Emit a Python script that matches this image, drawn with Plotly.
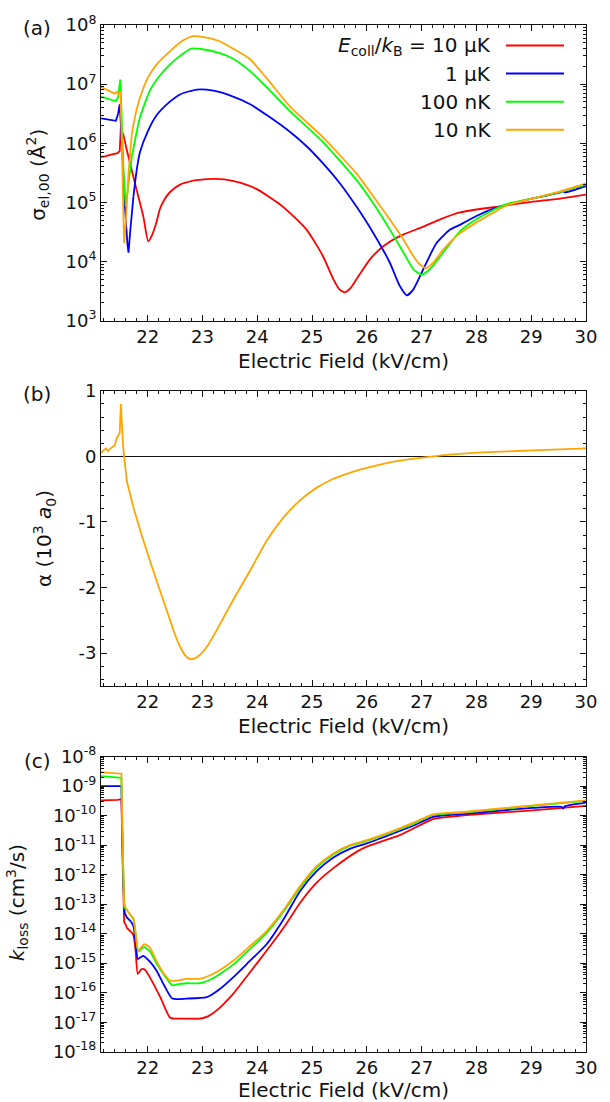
import plotly.graph_objects as go

# ---------------- data ----------------
# Panel (a): sigma_el,00 (Å^2)
a_red_x = [21.15, 21.22, 21.3, 21.38, 21.45, 21.49, 21.51, 21.53, 21.56, 21.62, 21.68, 21.8, 21.92, 22.01,
           22.08, 22.16, 22.22, 22.3, 22.41, 22.59, 22.8, 22.95, 23.2, 23.4, 23.7, 24.0, 24.4, 24.6, 24.9,
           25.2, 25.39, 25.5, 25.6, 25.7, 25.81, 26.06, 26.3, 26.6, 27.03, 27.33, 27.7, 28.0, 28.4, 29.0,
           29.5, 30.0]
a_red_y = [5.9e5, 6.0e5, 6.3e5, 6.6e5, 6.8e5, 7.4e5, 1.9e6, 1.6e6, 1.35e6, 7.6e5, 4.6e5, 1.6e5, 5.8e4, 2.2e4,
           2.8e4, 4.6e4, 7.6e4, 1.1e5, 1.5e5, 2.0e5, 2.3e5, 2.4e5, 2.5e5, 2.45e5, 2.14e5, 1.66e5, 9.5e4,
           6.6e4, 3.47e4, 1.23e4, 5.0e3, 3.39e3, 3.02e3, 3.55e3, 5.0e3, 1.1e4, 1.82e4, 2.69e4, 3.89e4,
           5.13e4, 6.76e4, 7.59e4, 8.51e4, 1.02e5, 1.15e5, 1.35e5]

a_blue_x = [21.15, 21.25, 21.35, 21.42, 21.46, 21.49, 21.53, 21.58, 21.63, 21.65, 21.68, 21.74, 21.8, 21.86,
            22.0, 22.16, 22.4, 22.6, 22.9, 23.2, 23.5, 23.87, 24.2, 24.6, 24.9, 25.2, 25.51, 25.81, 26.12,
            26.42, 26.6, 26.73, 26.85, 27.03, 27.27, 27.52, 27.7, 28.0, 28.3, 28.55, 29.03, 29.3, 29.55,
            29.58, 29.61, 30.0]
a_blue_y = [2.63e6, 2.57e6, 2.45e6, 2.4e6, 3.16e6, 4.57e6, 1.0e6, 1.0e5, 2.0e4, 1.41e4, 3.16e4, 1.26e5,
            3.55e5, 7.1e5, 1.58e6, 2.95e6, 5.0e6, 6.76e6, 8.1e6, 7.76e6, 6.46e6, 4.57e6, 2.88e6, 1.55e6,
            8.9e5, 4.57e5, 2.09e5, 8.5e4, 3.02e4, 9.55e3, 3.89e3, 2.69e3, 3.39e3, 7.41e3, 2.04e4, 3.47e4,
            4.17e4, 5.89e4, 7.76e4, 9.12e4, 1.17e5, 1.32e5, 1.51e5, 1.58e5, 1.48e5, 1.9e5]

a_green_x = [21.15, 21.25, 21.35, 21.42, 21.46, 21.5, 21.52, 21.56, 21.6, 21.65, 21.71, 21.8, 21.86, 22.04,
             22.2, 22.35, 22.5, 22.65, 22.8, 23.0, 23.3, 23.56, 23.87, 24.17, 24.6, 25.2, 25.81, 26.12,
             26.42, 26.67, 26.85, 27.0, 27.15, 27.39, 27.7, 27.94, 28.2, 28.55, 29.03, 29.5, 30.0]
a_green_y = [6.17e6, 5.75e6, 5.25e6, 5.13e6, 6.03e6, 1.2e7, 3.98e6, 3.16e5, 8.5e4, 2.0e5, 5.89e5, 1.58e6,
             2.75e6, 7.76e6, 1.32e7, 1.91e7, 2.57e7, 3.31e7, 3.98e7, 3.89e7, 3.39e7, 2.69e7, 1.66e7,
             8.91e6, 3.47e6, 1.05e6, 2.4e5, 9.55e4, 3.47e4, 1.41e4, 7.41e3, 6.03e3, 7.41e3, 1.41e4,
             3.24e4, 4.79e4, 6.61e4, 9.33e4, 1.17e5, 1.48e5, 2.0e5]

a_orange_x = [21.15, 21.2, 21.25, 21.3, 21.35, 21.4, 21.44, 21.47, 21.5, 21.53, 21.55, 21.57, 21.6, 21.65,
              21.71, 21.8, 21.9, 22.0, 22.16, 22.4, 22.65, 22.83, 23.0, 23.3, 23.56, 23.87, 24.17, 24.6,
              25.2, 25.81, 26.12, 26.42, 26.67, 26.85, 26.97, 27.09, 27.21, 27.39, 27.7, 28.0, 28.3, 28.55,
              29.03, 29.5, 30.0]
a_orange_y = [8.91e6, 8.51e6, 7.94e6, 7.59e6, 7.24e6, 6.92e6, 7.41e6, 6.92e6, 7.59e6, 1.0e6, 1.0e5, 2.04e4,
              4.47e4, 3.09e5, 1.45e6, 3.8e6, 7.59e6, 1.26e7, 2.14e7, 3.55e7, 5.5e7, 6.46e7, 6.31e7, 5.37e7,
              3.98e7, 2.63e7, 1.26e7, 4.17e6, 1.26e6, 3.09e5, 1.26e5, 5.13e4, 2.34e4, 1.23e4, 8.91e3,
              7.76e3, 9.55e3, 1.58e4, 3.02e4, 4.57e4, 6.61e4, 8.91e4, 1.17e5, 1.51e5, 2.09e5]

# Panel (b): alpha (10^3 a0), 10 nK
b_x = [21.15, 21.2, 21.24, 21.28, 21.32, 21.36, 21.4, 21.43, 21.47, 21.49, 21.51, 21.53, 21.55, 21.57,
       21.62, 21.74, 21.92, 22.16, 22.41, 22.5, 22.59, 22.68, 22.77, 22.86, 22.95, 23.1, 23.26, 23.56,
       23.87, 24.17, 24.48, 24.78, 25.08, 25.39, 25.69, 26.0, 26.3, 26.6, 26.91, 27.21, 27.5, 27.82,
       28.43, 29.03, 30.0]
b_y = [0.05, 0.10, 0.12, 0.08, 0.12, 0.15, 0.17, 0.27, 0.33, 0.36, 0.80, 0.35, 0.18, 0.0,
       -0.38, -0.78, -1.28, -1.89, -2.50, -2.72, -2.90, -3.03, -3.09, -3.08, -3.03, -2.88, -2.65, -2.19,
       -1.74, -1.29, -0.93, -0.67, -0.48, -0.34, -0.25, -0.175, -0.114, -0.064, -0.029, 0.0, 0.027, 0.047,
       0.072, 0.092, 0.122]

# Panel (c): k_loss (cm^3/s)
c_red_x = [21.15, 21.3, 21.45, 21.5, 21.52, 21.55, 21.57, 21.6, 21.62, 21.7, 21.74, 21.78, 21.82, 21.89,
           21.95, 22.04, 22.23, 22.41, 22.5, 22.71, 22.95, 23.1, 23.26, 23.56, 23.85, 24.17, 24.5, 24.78,
           25.08, 25.39, 25.82, 26.0, 26.6, 27.21, 27.5, 27.82, 29.03, 30.0]
c_red_y = [3.31e-10, 3.31e-10, 3.39e-10, 3.55e-10, 3.55e-10, 1e-12, 2.51e-14, 2.0e-14, 1.58e-14, 1.12e-14,
           8.91e-15, 2.51e-15, 4.37e-16, 6.31e-16, 6.03e-16, 3.31e-16, 7.08e-17, 1.41e-17, 1.32e-17,
           1.32e-17, 1.32e-17, 1.58e-17, 2.51e-17, 9.12e-17, 4.47e-16, 2.63e-15, 1.78e-14, 1.10e-13,
           5.25e-13, 1.66e-12, 6.03e-12, 8.91e-12, 2.19e-11, 7.59e-11, 9.12e-11, 1.05e-10, 1.51e-10, 2.14e-10]

c_blue_x = [21.15, 21.3, 21.45, 21.52, 21.55, 21.58, 21.62, 21.7, 21.74, 21.78, 21.82, 21.87, 21.92, 22.04,
            22.16, 22.3, 22.45, 22.71, 23.08, 23.3, 23.56, 23.85, 24.17, 24.5, 24.78, 25.08, 25.39, 25.7,
            26.0, 26.6, 26.9, 27.21, 27.82, 29.03, 29.55, 29.58, 29.61, 30.0]
c_blue_y = [1e-9, 1e-9, 1e-9, 1e-9, 1e-12, 5.01e-14, 3.55e-14, 2.51e-14, 1.78e-14, 5.01e-15, 1.38e-15,
            1.58e-15, 1.78e-15, 1.12e-15, 5.62e-16, 1.78e-16, 6.31e-17, 6.31e-17, 7.08e-17, 1.26e-16,
            3.31e-16, 1.12e-15, 4.37e-15, 3.55e-14, 2.75e-13, 1.29e-12, 3.8e-12, 7.59e-12, 1.15e-11,
            3.02e-11, 5.01e-11, 9.12e-11, 1.17e-10, 1.82e-10, 2.0e-10, 1.74e-10, 2.04e-10, 2.75e-10]

c_green_x = [21.15, 21.3, 21.45, 21.52, 21.55, 21.57, 21.62, 21.7, 21.74, 21.78, 21.83, 21.93, 22.04, 22.16,
             22.3, 22.45, 22.53, 22.71, 22.95, 23.2, 23.56, 23.85, 24.17, 24.5, 24.78, 25.08, 25.39, 25.7,
             26.0, 26.6, 26.9, 27.21, 27.82, 29.03, 30.0]
c_green_y = [2.19e-9, 2.09e-9, 1.95e-9, 1.91e-9, 3.16e-12, 7.94e-14, 6.31e-14, 3.98e-14, 3.16e-14, 1e-14,
             2.51e-15, 3.55e-15, 2.51e-15, 1e-15, 3.98e-16, 1.78e-16, 1.91e-16, 2.09e-16, 2.09e-16,
             3.16e-16, 8.91e-16, 2.82e-15, 1.05e-14, 6.31e-14, 3.55e-13, 1.70e-12, 4.79e-12, 9.55e-12,
             1.38e-11, 3.47e-11, 5.75e-11, 1.05e-10, 1.29e-10, 2.14e-10, 3.16e-10]

c_orange_x = [21.15, 21.3, 21.45, 21.52, 21.55, 21.57, 21.62, 21.7, 21.74, 21.78, 21.83, 21.93, 22.04, 22.16,
              22.28, 22.41, 22.53, 22.71, 22.95, 23.2, 23.56, 23.85, 24.17, 24.5, 24.78, 25.08, 25.39, 25.7,
              26.0, 26.6, 26.9, 27.21, 27.82, 29.03, 30.0]
c_orange_y = [2.95e-9, 2.82e-9, 2.69e-9, 2.63e-9, 3.16e-12, 1e-13, 6.31e-14, 3.98e-14, 3.16e-14, 1e-14,
              2.63e-15, 4.37e-15, 3.39e-15, 1.2e-15, 4.9e-16, 2.57e-16, 2.57e-16, 2.95e-16, 2.95e-16,
              4.37e-16, 1.2e-15, 3.55e-15, 1.23e-14, 7.08e-14, 4.07e-13, 1.91e-12, 5.25e-12, 1.02e-11,
              1.48e-11, 3.72e-11, 6.31e-11, 1.10e-10, 1.35e-10, 2.24e-10, 3.31e-10]

series_names = ["<i>E</i><sub>coll</sub>/<i>k</i><sub>B</sub> = 10 μK", "1 μK", "100 nK", "10 nK"]
series_colors = ["#ff0000", "#0000ff", "#00ff00", "#ffa500"]

a_ticks = [1e3, 1e4, 1e5, 1e6, 1e7, 1e8]
a_ticktext = ["10<sup>3</sup>", "10<sup>4</sup>", "10<sup>5</sup>", "10<sup>6</sup>", "10<sup>7</sup>", "10<sup>8</sup>"]
b_ticks = [1, 0, -1, -2, -3]
b_ticktext = ["1", "0", "-1", "-2", "-3"]
c_exps = list(range(-18, -7))
c_ticks = [10.0 ** e for e in c_exps]
c_ticktext = ["10<sup>%d</sup>" % e for e in c_exps]
x_ticks = [22, 23, 24, 25, 26, 27, 28, 29, 30]

# ---------------- figure ----------------
FONT = "DejaVu Sans"
INK = "#111111"
W, H = 610, 1102
ML, MR, MT, MB = 101, 24, 17, 50
PW = W - ML - MR
PH = H - MT - MB
SPLIT = 21.7   # straight segments through the spiky onset, smooth curve afterwards


def py(p):  # pixel y -> paper
    return (H - MB - p) / PH


def px(p):  # pixel x -> paper
    return (p - ML) / PW


fig = go.Figure()


def add_series(xx, yy, col, xa, ya):
    k = next(i for i, v in enumerate(xx) if v >= SPLIT)
    fig.add_trace(go.Scatter(x=xx[:k + 1], y=yy[:k + 1], mode="lines",
                             line=dict(color=col, width=1.8), xaxis=xa, yaxis=ya, showlegend=False))
    fig.add_trace(go.Scatter(x=xx[k:], y=yy[k:], mode="lines",
                             line=dict(color=col, width=1.8, shape="spline", smoothing=0.6),
                             xaxis=xa, yaxis=ya, showlegend=False))


a_sets = [(a_red_x, a_red_y), (a_blue_x, a_blue_y), (a_green_x, a_green_y), (a_orange_x, a_orange_y)]
c_sets = [(c_red_x, c_red_y), (c_blue_x, c_blue_y), (c_green_x, c_green_y), (c_orange_x, c_orange_y)]
for (xx, yy), col in zip(a_sets, series_colors):
    add_series(xx, yy, col, "x", "y")
add_series(b_x, b_y, series_colors[3], "x2", "y2")
for (xx, yy), col in zip(c_sets, series_colors):
    add_series(xx, yy, col, "x3", "y3")

tickfont = dict(family=FONT, size=18, color=INK)


def log_minor(lo, hi):
    vals = []
    for e in range(lo, hi):
        for m in range(2, 10):
            vals.append(m * 10.0 ** e)
    return vals


xcommon = dict(range=[21.148, 30], tickmode="array", tickvals=x_ticks, ticks="inside", ticklen=6,
               tickcolor=INK, showline=True, linecolor=INK, linewidth=1, mirror="ticks",
               showgrid=False, zeroline=False, tickfont=tickfont,
               minor=dict(tickmode="linear", ticks="inside", ticklen=3, dtick=0.2, tick0=0,
                          tickcolor=INK, showgrid=False))
ycommon = dict(ticks="inside", ticklen=6, tickcolor=INK, showline=True, linecolor=INK, linewidth=1,
               mirror="ticks", showgrid=False, tickfont=tickfont)

dom_a = [py(315), py(17)]
dom_b = [py(683), py(385.7)]
dom_c = [py(1051.7), py(754.3)]

fig.update_layout(
    width=W, height=H, autosize=False,
    margin=dict(l=ML, r=MR, t=MT, b=MB),
    paper_bgcolor="white", plot_bgcolor="white",
    font=dict(family=FONT, color=INK),
    showlegend=False,
    xaxis=dict(domain=[0, 1], anchor="y", **xcommon),
    xaxis2=dict(domain=[0, 1], anchor="y2", **xcommon),
    xaxis3=dict(domain=[0, 1], anchor="y3", **xcommon),
    yaxis=dict(domain=dom_a, anchor="x", type="log", range=[3, 8], tickmode="array",
               tickvals=a_ticks, ticktext=a_ticktext, zeroline=False,
               minor=dict(tickmode="array", ticks="inside", ticklen=3, tickvals=log_minor(3, 8),
                          tickcolor=INK, showgrid=False),
               **ycommon),
    yaxis2=dict(domain=dom_b, anchor="x2", range=[-3.5, 1], tickmode="array",
                tickvals=b_ticks, ticktext=b_ticktext, zeroline=True, zerolinecolor=INK, zerolinewidth=1,
                minor=dict(tickmode="linear", ticks="inside", ticklen=3, dtick=0.2, tick0=0,
                           tickcolor=INK, showgrid=False),
                **ycommon),
    yaxis3=dict(domain=dom_c, anchor="x3", type="log", range=[-18, -8], tickmode="array",
                tickvals=c_ticks, ticktext=c_ticktext, zeroline=False,
                minor=dict(tickmode="array", ticks="inside", ticklen=3, tickvals=log_minor(-18, -8),
                           tickcolor=INK, showgrid=False),
                **ycommon),
)

ann = []
title_font = dict(family=FONT, size=20, color=INK)
for yc in (356, 723, 1090):
    ann.append(dict(text="Electric Field (kV/cm)", xref="paper", yref="paper", x=0.5, y=py(yc),
                    xanchor="center", yanchor="middle", showarrow=False, font=title_font))
ann.append(dict(text="σ<sub>el,00</sub> (Å<sup>2</sup>)", xref="paper", yref="paper", x=px(38), y=py(168),
                xanchor="center", yanchor="middle", textangle=-90, showarrow=False, font=title_font))
ann.append(dict(text="α (10<sup>3</sup> <i>a</i><sub>0</sub>)", xref="paper", yref="paper", x=px(45), y=py(535),
                xanchor="center", yanchor="middle", textangle=-90, showarrow=False, font=title_font))
ann.append(dict(text="<i>k</i><sub>loss</sub> (cm<sup>3</sup>/s)", xref="paper", yref="paper", x=px(17), y=py(902),
                xanchor="center", yanchor="middle", textangle=-90, showarrow=False, font=title_font))
for lab, yc in (("(a)", 20), ("(b)", 389), ("(c)", 759)):
    ann.append(dict(text=lab, xref="paper", yref="paper", x=px(37), y=py(yc), xanchor="center",
                    yanchor="middle", showarrow=False, font=title_font))

shapes = []
for i, (name, col) in enumerate(zip(series_names, series_colors)):
    yl = 37.7 + 28.3 * i
    ann.append(dict(text=name, xref="paper", yref="paper", x=px(493), y=py(yl), xanchor="right",
                    yanchor="middle", showarrow=False, font=title_font))
    shapes.append(dict(type="line", xref="paper", yref="paper", x0=px(506), x1=px(564), y0=py(yl), y1=py(yl),
                       line=dict(color=col, width=2)))

fig.update_layout(annotations=ann, shapes=shapes)

fig.write_html("out.html", config={"displayModeBar": False},
               post_script="document.body.style.margin='0';")
